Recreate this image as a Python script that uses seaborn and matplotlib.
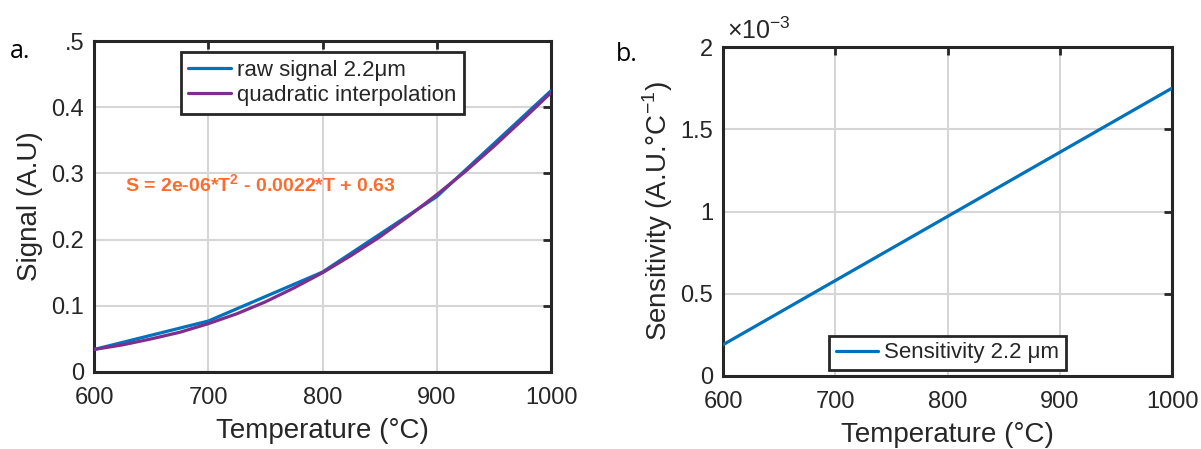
import matplotlib
matplotlib.use("Agg")
import matplotlib.pyplot as plt
import pandas as pd
import seaborn as sns
from matplotlib.ticker import FuncFormatter

# values
temp_raw = [600, 700, 800, 900, 1000]
signal_raw = [0.034, 0.077, 0.151, 0.265, 0.425]

temp_fit = [600, 625, 650, 675, 700, 725, 750, 775, 800,
            825, 850, 875, 900, 925, 950, 975, 1000]
signal_fit = [0.034, 0.041, 0.050, 0.060, 0.073, 0.088, 0.106, 0.127, 0.150,
              0.176, 0.204, 0.235, 0.268, 0.303, 0.341, 0.381, 0.422]

temp_sens = [600, 700, 800, 900, 1000]
sensitivity = [0.19e-3, 0.58e-3, 0.97e-3, 1.36e-3, 1.75e-3]

x_ticks = [600, 700, 800, 900, 1000]
signal_ticks = [0, 0.1, 0.2, 0.3, 0.4, 0.5]
signal_ticklabels = ["0", "0.1", "0.2", "0.3", "0.4", ".5"]
sens_ticks = [0, 0.5e-3, 1e-3, 1.5e-3, 2e-3]

BLUE = "#0072BD"
PURPLE = "#7E2F8E"
ORANGE = "#FF6B2C"
SPINE = "#262626"

sns.set_style("white")
plt.rcParams["font.family"] = ["Liberation Sans", "DejaVu Sans"]
plt.rcParams["mathtext.fontset"] = "custom"
plt.rcParams["mathtext.rm"] = "Liberation Sans"
plt.rcParams["mathtext.bf"] = "Liberation Sans:bold"


def matlab_axes(ax):
    ax.grid(True, color="#d6d6d6", linewidth=1.5, zorder=0)
    ax.set_axisbelow(True)
    for spine in ax.spines.values():
        spine.set_visible(True)
        spine.set_color(SPINE)
        spine.set_linewidth(2.2)
    ax.tick_params(direction="in", length=6, width=2, color=SPINE,
                   top=True, right=True, labelsize=17, labelcolor="#262626")
    ax.tick_params(axis="x", pad=11)
    ax.tick_params(axis="y", pad=7)


fig = plt.figure(figsize=(12.01, 4.49), dpi=100)
ax1 = fig.add_axes([0.0783, 0.1715, 0.3805, 0.737])
ax2 = fig.add_axes([0.602, 0.1626, 0.3739, 0.7327])

df_raw = pd.DataFrame({"T": temp_raw, "S": signal_raw})
df_fit = pd.DataFrame({"T": temp_fit, "S": signal_fit})
sns.lineplot(data=df_raw, x="T", y="S", ax=ax1, color=BLUE, linewidth=2.3,
             label="raw signal 2.2μm", zorder=3)
sns.lineplot(data=df_fit, x="T", y="S", ax=ax1, color=PURPLE, linewidth=2.3,
             label="quadratic interpolation", zorder=3)
matlab_axes(ax1)
ax1.set_xlim(600, 1000)
ax1.set_ylim(0, 0.5)
ax1.set_xticks(x_ticks)
ax1.set_yticks(signal_ticks)
ax1.set_yticklabels(signal_ticklabels)
ax1.set_xlabel("Temperature (°C)", fontsize=20, color="#262626", labelpad=6)
ax1.set_ylabel("Signal (A.U)", fontsize=20, color="#262626", labelpad=6)
ax1.text(627, 0.283, r"S = 2e-06*T$^{\mathbf{2}}$ - 0.0022*T + 0.63", color=ORANGE,
         fontsize=14, fontweight="bold", ha="left", va="center")
leg1 = ax1.legend(loc="upper center", bbox_to_anchor=(0.5, 0.967), fontsize=16,
                  frameon=True, fancybox=False, edgecolor=SPINE, framealpha=1,
                  handlelength=1.9, handletextpad=0.3, borderpad=0.35,
                  labelspacing=0.2, borderaxespad=0)
leg1.get_frame().set_linewidth(2)

df_sens = pd.DataFrame({"T": temp_sens, "Sens": sensitivity})
sns.lineplot(data=df_sens, x="T", y="Sens", ax=ax2, color=BLUE, linewidth=2.3,
             label="Sensitivity 2.2 μm", zorder=3)
matlab_axes(ax2)
ax2.set_xlim(600, 1000)
ax2.set_ylim(0, 2e-3)
ax2.set_xticks(x_ticks)
ax2.set_yticks(sens_ticks)
ax2.yaxis.set_major_formatter(FuncFormatter(lambda v, p: f"{v * 1e3:g}"))
ax2.set_xlabel("Temperature (°C)", fontsize=20, color="#262626", labelpad=6)
ax2.set_ylabel("Sensitivity (A.U.°C$^{-1}$)", fontsize=20, color="#262626", labelpad=4)
ax2.text(0.01, 1.01, r"$\times$10$^{-3}$", transform=ax2.transAxes, fontsize=18,
         color="#262626", ha="left", va="bottom")
leg2 = ax2.legend(loc="lower center", bbox_to_anchor=(0.5, 0.018), fontsize=16,
                  frameon=True, fancybox=False, edgecolor=SPINE, framealpha=1,
                  handlelength=1.9, handletextpad=0.3, borderpad=0.3,
                  borderaxespad=0)
leg2.get_frame().set_linewidth(2)

fig.text(0.008, 0.87, "a.", fontsize=18, color="black", family=["Open Sans", "DejaVu Sans"])
fig.text(0.513, 0.865, "b.", fontsize=18, color="black", family=["Open Sans", "DejaVu Sans"])

fig.savefig("out.png", dpi=100)
